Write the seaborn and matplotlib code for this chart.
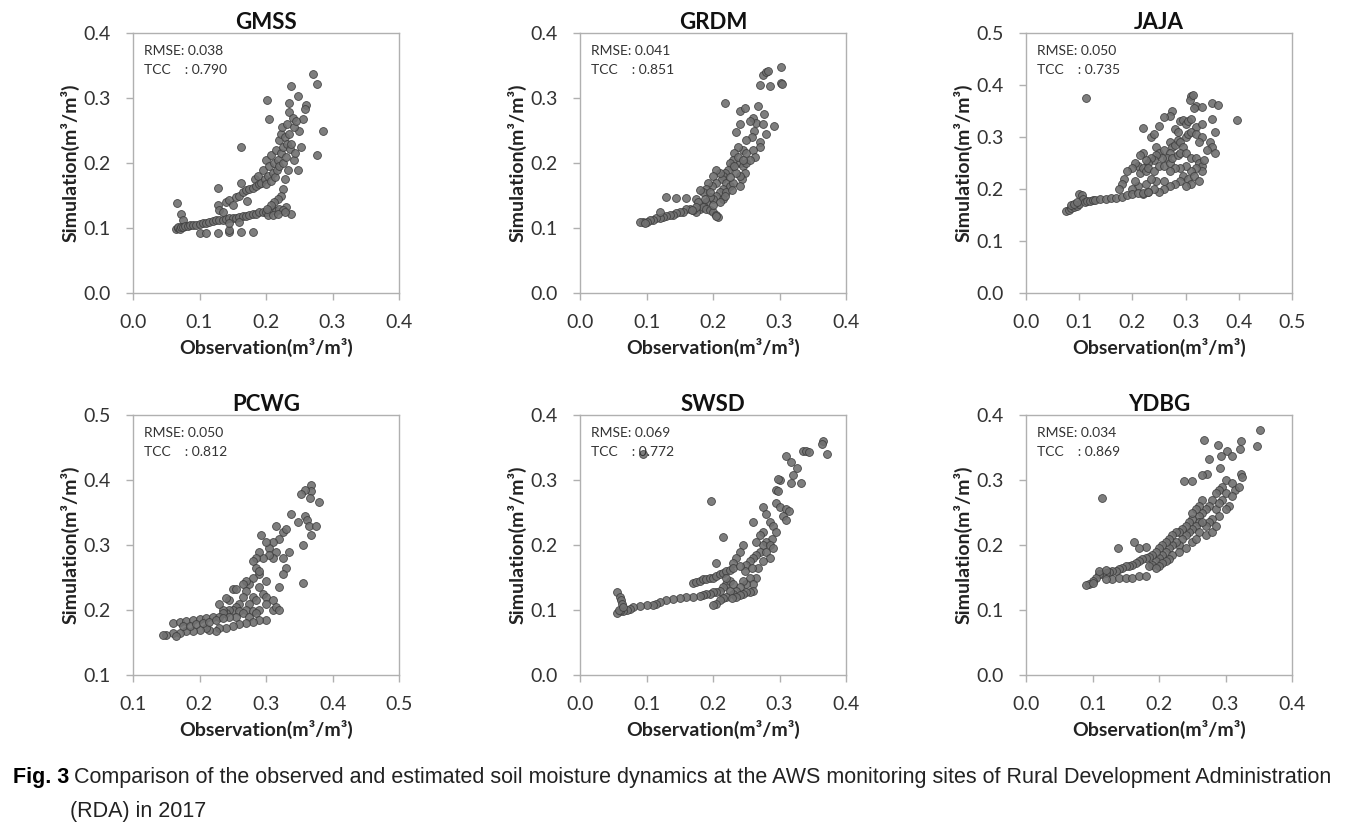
import matplotlib
matplotlib.use("Agg")
import matplotlib.pyplot as plt
import seaborn as sns
import pandas as pd

# ---------------- data ----------------
sites = ["GMSS", "GRDM", "JAJA", "PCWG", "SWSD", "YDBG"]
rmse = ["0.038", "0.041", "0.050", "0.050", "0.069", "0.034"]
tcc = ["0.790", "0.851", "0.735", "0.812", "0.772", "0.869"]
ax_lims = [(0.0, 0.4), (0.0, 0.4), (0.0, 0.5), (0.1, 0.5), (0.0, 0.4), (0.0, 0.4)]

gmss_pts = [
    (0.27, 0.337), (0.277, 0.322), (0.238, 0.318), (0.202, 0.297), (0.204, 0.268), (0.248, 0.303),
    (0.26, 0.29), (0.258, 0.283), (0.255, 0.268), (0.285, 0.25), (0.277, 0.212), (0.163, 0.224),
    (0.128, 0.162), (0.066, 0.139), (0.072, 0.122), (0.075, 0.112), (0.235, 0.293), (0.234, 0.278),
    (0.25, 0.25), (0.252, 0.225), (0.242, 0.205), (0.248, 0.19), (0.238, 0.122), (0.23, 0.133),
    (0.1, 0.092), (0.11, 0.092), (0.128, 0.092), (0.145, 0.094), (0.145, 0.097), (0.163, 0.094), (0.18, 0.094),
    (0.065, 0.098), (0.067, 0.1), (0.068, 0.102), (0.07, 0.099), (0.072, 0.101), (0.075, 0.102),
    (0.078, 0.103), (0.082, 0.103), (0.086, 0.104), (0.09, 0.104), (0.095, 0.105), (0.1, 0.106),
    (0.105, 0.107), (0.11, 0.108), (0.115, 0.11), (0.12, 0.111), (0.125, 0.112), (0.13, 0.113),
    (0.135, 0.112), (0.14, 0.114), (0.145, 0.115), (0.15, 0.116), (0.155, 0.115), (0.16, 0.117),
    (0.165, 0.118), (0.17, 0.119), (0.175, 0.12), (0.18, 0.121), (0.185, 0.122), (0.19, 0.124),
    (0.195, 0.125), (0.2, 0.124), (0.205, 0.127), (0.21, 0.128), (0.215, 0.126), (0.22, 0.129),
    (0.225, 0.128), (0.203, 0.12), (0.21, 0.12), (0.218, 0.122), (0.228, 0.124), (0.145, 0.108), (0.16, 0.11),
    (0.128, 0.135), (0.13, 0.128), (0.135, 0.125), (0.14, 0.14), (0.145, 0.143), (0.15, 0.135),
    (0.155, 0.148), (0.16, 0.15), (0.163, 0.17), (0.165, 0.155), (0.17, 0.158), (0.172, 0.142),
    (0.175, 0.16), (0.18, 0.162), (0.183, 0.175), (0.185, 0.165), (0.188, 0.18), (0.19, 0.167),
    (0.193, 0.17), (0.195, 0.19), (0.198, 0.175), (0.2, 0.205), (0.2, 0.168), (0.203, 0.18),
    (0.205, 0.195), (0.207, 0.172), (0.208, 0.212), (0.21, 0.185), (0.212, 0.2), (0.213, 0.178),
    (0.215, 0.22), (0.216, 0.19), (0.218, 0.205), (0.219, 0.235), (0.22, 0.195), (0.222, 0.245),
    (0.222, 0.215), (0.224, 0.255), (0.225, 0.225), (0.226, 0.2), (0.228, 0.24), (0.23, 0.21),
    (0.231, 0.26), (0.232, 0.23), (0.235, 0.245), (0.236, 0.222), (0.238, 0.23), (0.24, 0.27),
    (0.242, 0.255), (0.244, 0.215), (0.245, 0.265), (0.233, 0.19), (0.228, 0.175), (0.225, 0.16),
    (0.222, 0.15), (0.218, 0.145), (0.212, 0.14), (0.207, 0.135), (0.202, 0.13),
]

grdm_pts = [
    (0.275, 0.335), (0.28, 0.34), (0.283, 0.342), (0.302, 0.347), (0.27, 0.32), (0.285, 0.318),
    (0.303, 0.323), (0.304, 0.322), (0.218, 0.293), (0.24, 0.28), (0.248, 0.285), (0.268, 0.287),
    (0.276, 0.275), (0.26, 0.27), (0.265, 0.262), (0.255, 0.265), (0.292, 0.257), (0.24, 0.26),
    (0.234, 0.248), (0.28, 0.245), (0.27, 0.232), (0.27, 0.225), (0.275, 0.26), (0.262, 0.25),
    (0.258, 0.24), (0.25, 0.235), (0.245, 0.22), (0.26, 0.22), (0.263, 0.21), (0.238, 0.225),
    (0.232, 0.215), (0.23, 0.205), (0.228, 0.195), (0.225, 0.2), (0.24, 0.2), (0.245, 0.195),
    (0.25, 0.2), (0.248, 0.185), (0.244, 0.175), (0.24, 0.18), (0.235, 0.185), (0.222, 0.19),
    (0.218, 0.185), (0.215, 0.18), (0.213, 0.175), (0.21, 0.185), (0.205, 0.19), (0.2, 0.18),
    (0.205, 0.17), (0.198, 0.165), (0.193, 0.17), (0.19, 0.16), (0.185, 0.155), (0.18, 0.158),
    (0.22, 0.17), (0.225, 0.165), (0.23, 0.17), (0.215, 0.16), (0.21, 0.155), (0.205, 0.15),
    (0.2, 0.145), (0.195, 0.148), (0.19, 0.14), (0.185, 0.135), (0.18, 0.13), (0.175, 0.125),
    (0.17, 0.128), (0.165, 0.13), (0.16, 0.13), (0.155, 0.125), (0.15, 0.125), (0.145, 0.123),
    (0.14, 0.12), (0.135, 0.12), (0.13, 0.118), (0.125, 0.117), (0.12, 0.115), (0.115, 0.115),
    (0.11, 0.113), (0.105, 0.112), (0.1, 0.11), (0.095, 0.11), (0.09, 0.109), (0.098, 0.108),
    (0.13, 0.148), (0.145, 0.146), (0.16, 0.146), (0.12, 0.125), (0.175, 0.145), (0.178, 0.14),
    (0.185, 0.132), (0.19, 0.13), (0.195, 0.128), (0.2, 0.125), (0.205, 0.12), (0.208, 0.117),
    (0.204, 0.118), (0.215, 0.145), (0.22, 0.155), (0.225, 0.178), (0.232, 0.195), (0.238, 0.21),
    (0.25, 0.215), (0.255, 0.205), (0.245, 0.205), (0.24, 0.165), (0.228, 0.158), (0.218, 0.15),
    (0.21, 0.14), (0.2, 0.135), (0.195, 0.155), (0.188, 0.145), (0.175, 0.132), (0.168, 0.128),
]

jaja_pts = [
    (0.113, 0.375), (0.31, 0.378), (0.308, 0.372), (0.313, 0.38), (0.35, 0.365), (0.36, 0.362),
    (0.397, 0.332), (0.32, 0.36), (0.33, 0.357), (0.315, 0.355), (0.275, 0.35), (0.27, 0.34),
    (0.26, 0.338), (0.25, 0.322), (0.22, 0.318), (0.29, 0.33), (0.295, 0.332), (0.3, 0.325),
    (0.305, 0.33), (0.31, 0.335), (0.32, 0.32), (0.33, 0.325), (0.35, 0.335), (0.355, 0.31),
    (0.28, 0.315), (0.285, 0.31), (0.3, 0.3), (0.305, 0.305), (0.31, 0.31), (0.32, 0.305),
    (0.33, 0.3), (0.325, 0.29), (0.345, 0.29), (0.35, 0.28), (0.355, 0.27), (0.34, 0.275),
    (0.235, 0.3), (0.24, 0.305), (0.245, 0.28), (0.25, 0.27), (0.26, 0.275), (0.27, 0.29),
    (0.275, 0.28), (0.28, 0.285), (0.285, 0.295), (0.29, 0.29), (0.295, 0.28), (0.27, 0.27),
    (0.265, 0.26), (0.255, 0.26), (0.245, 0.265), (0.24, 0.255), (0.235, 0.26), (0.23, 0.25),
    (0.225, 0.255), (0.22, 0.27), (0.215, 0.265), (0.21, 0.245), (0.205, 0.25), (0.2, 0.24),
    (0.19, 0.235), (0.185, 0.22), (0.18, 0.21), (0.175, 0.2), (0.215, 0.23), (0.22, 0.24),
    (0.225, 0.235), (0.23, 0.24), (0.24, 0.235), (0.25, 0.245), (0.26, 0.245), (0.27, 0.25),
    (0.275, 0.26), (0.285, 0.265), (0.29, 0.27), (0.3, 0.27), (0.31, 0.26), (0.32, 0.26),
    (0.325, 0.25), (0.33, 0.245), (0.335, 0.255), (0.33, 0.235), (0.32, 0.24), (0.31, 0.235),
    (0.3, 0.245), (0.29, 0.24), (0.28, 0.24), (0.27, 0.235), (0.295, 0.225), (0.305, 0.22),
    (0.315, 0.225), (0.325, 0.215), (0.31, 0.21), (0.3, 0.205), (0.29, 0.215), (0.28, 0.21),
    (0.27, 0.205), (0.26, 0.2), (0.25, 0.195), (0.24, 0.2), (0.23, 0.195), (0.22, 0.19),
    (0.21, 0.205), (0.2, 0.2), (0.245, 0.215), (0.26, 0.215), (0.225, 0.21), (0.235, 0.22),
    (0.205, 0.215), (0.075, 0.158), (0.08, 0.16), (0.085, 0.163), (0.09, 0.166), (0.095, 0.168),
    (0.1, 0.172), (0.1, 0.19), (0.105, 0.188), (0.108, 0.18), (0.11, 0.175), (0.115, 0.176),
    (0.12, 0.177), (0.125, 0.178), (0.13, 0.179), (0.14, 0.18), (0.15, 0.181), (0.16, 0.182),
    (0.17, 0.183), (0.18, 0.185), (0.19, 0.188), (0.2, 0.19), (0.21, 0.192), (0.22, 0.193),
    (0.23, 0.195), (0.085, 0.17), (0.09, 0.172), (0.095, 0.175),
]

pcwg_pts = [
    (0.368, 0.393), (0.368, 0.383), (0.358, 0.385), (0.352, 0.378), (0.366, 0.373), (0.38, 0.366),
    (0.338, 0.347), (0.358, 0.345), (0.362, 0.338), (0.348, 0.336), (0.365, 0.33), (0.375, 0.33),
    (0.367, 0.315), (0.355, 0.3), (0.335, 0.29), (0.355, 0.242), (0.315, 0.33), (0.325, 0.32),
    (0.33, 0.325), (0.32, 0.31), (0.31, 0.305), (0.305, 0.295), (0.3, 0.305), (0.292, 0.315),
    (0.315, 0.29), (0.325, 0.28), (0.33, 0.265), (0.325, 0.255), (0.31, 0.28), (0.305, 0.285),
    (0.295, 0.28), (0.29, 0.29), (0.285, 0.28), (0.28, 0.275), (0.285, 0.265), (0.29, 0.255),
    (0.28, 0.25), (0.275, 0.24), (0.27, 0.245), (0.265, 0.24), (0.27, 0.23), (0.28, 0.22),
    (0.29, 0.235), (0.295, 0.225), (0.3, 0.22), (0.31, 0.215), (0.32, 0.235), (0.3, 0.245),
    (0.29, 0.26), (0.285, 0.215), (0.275, 0.21), (0.265, 0.22), (0.26, 0.21), (0.255, 0.205),
    (0.25, 0.2), (0.245, 0.2), (0.24, 0.195), (0.235, 0.2), (0.23, 0.21), (0.245, 0.215),
    (0.25, 0.233), (0.255, 0.233), (0.24, 0.218), (0.235, 0.195), (0.26, 0.198), (0.27, 0.2),
    (0.28, 0.198), (0.29, 0.2), (0.3, 0.21), (0.31, 0.2), (0.315, 0.205), (0.32, 0.2),
    (0.265, 0.195), (0.275, 0.19), (0.255, 0.19), (0.245, 0.19), (0.285, 0.195), (0.3, 0.185),
    (0.29, 0.185), (0.28, 0.182), (0.27, 0.18), (0.26, 0.178), (0.25, 0.175), (0.24, 0.173),
    (0.23, 0.172), (0.225, 0.168), (0.215, 0.17), (0.21, 0.172), (0.2, 0.17), (0.19, 0.168),
    (0.18, 0.167), (0.17, 0.165), (0.16, 0.165), (0.15, 0.162), (0.145, 0.162), (0.165, 0.16),
    (0.16, 0.18), (0.17, 0.182), (0.18, 0.183), (0.19, 0.185), (0.2, 0.186), (0.21, 0.188),
    (0.22, 0.19), (0.23, 0.19), (0.175, 0.175), (0.185, 0.175), (0.195, 0.178), (0.205, 0.18),
    (0.215, 0.182), (0.225, 0.185), (0.235, 0.188),
]

swsd_pts = [
    (0.365, 0.36), (0.364, 0.355), (0.372, 0.34), (0.335, 0.345), (0.34, 0.345), (0.345, 0.343),
    (0.31, 0.337), (0.318, 0.327), (0.326, 0.318), (0.32, 0.308), (0.3, 0.3), (0.298, 0.302),
    (0.318, 0.296), (0.333, 0.296), (0.295, 0.285), (0.298, 0.283), (0.295, 0.265), (0.3, 0.258),
    (0.31, 0.255), (0.315, 0.252), (0.305, 0.245), (0.31, 0.238), (0.197, 0.268), (0.095, 0.34),
    (0.275, 0.258), (0.26, 0.235), (0.28, 0.248), (0.285, 0.235), (0.29, 0.23), (0.295, 0.22),
    (0.288, 0.21), (0.28, 0.205), (0.275, 0.2), (0.27, 0.19), (0.265, 0.185), (0.26, 0.18),
    (0.255, 0.175), (0.25, 0.17), (0.248, 0.16), (0.245, 0.2), (0.24, 0.19), (0.235, 0.18),
    (0.23, 0.172), (0.215, 0.212), (0.205, 0.172), (0.275, 0.22), (0.27, 0.215), (0.265, 0.205),
    (0.28, 0.19), (0.285, 0.2), (0.29, 0.195), (0.285, 0.18), (0.275, 0.175), (0.268, 0.165),
    (0.258, 0.165), (0.265, 0.15), (0.255, 0.15), (0.26, 0.14), (0.25, 0.14), (0.245, 0.145),
    (0.24, 0.135), (0.235, 0.13), (0.23, 0.125), (0.225, 0.13), (0.22, 0.12), (0.215, 0.118),
    (0.21, 0.115), (0.205, 0.11), (0.2, 0.108), (0.26, 0.13), (0.255, 0.128), (0.25, 0.128),
    (0.245, 0.125), (0.24, 0.123), (0.235, 0.12), (0.228, 0.118), (0.22, 0.14), (0.225, 0.145),
    (0.23, 0.14), (0.215, 0.135), (0.21, 0.13), (0.205, 0.128), (0.2, 0.127), (0.195, 0.125),
    (0.19, 0.124), (0.185, 0.123), (0.18, 0.122), (0.17, 0.12), (0.16, 0.12), (0.15, 0.118),
    (0.14, 0.117), (0.13, 0.115), (0.12, 0.113), (0.115, 0.11), (0.11, 0.108), (0.1, 0.107),
    (0.09, 0.106), (0.08, 0.104), (0.075, 0.102), (0.07, 0.1), (0.065, 0.099), (0.06, 0.098),
    (0.056, 0.096), (0.058, 0.1), (0.055, 0.128), (0.06, 0.12), (0.062, 0.115), (0.063, 0.11),
    (0.065, 0.105), (0.17, 0.142), (0.175, 0.143), (0.18, 0.145), (0.185, 0.147), (0.19, 0.148),
    (0.195, 0.15), (0.2, 0.15), (0.205, 0.153), (0.21, 0.155), (0.215, 0.157), (0.22, 0.16),
    (0.225, 0.162), (0.23, 0.165), (0.24, 0.168), (0.22, 0.15),
]

ydbg_pts = [
    (0.352, 0.377), (0.348, 0.353), (0.268, 0.362), (0.288, 0.354), (0.323, 0.36), (0.322, 0.347),
    (0.302, 0.345), (0.31, 0.337), (0.275, 0.332), (0.293, 0.337), (0.292, 0.318), (0.323, 0.31),
    (0.325, 0.305), (0.272, 0.31), (0.265, 0.308), (0.237, 0.298), (0.25, 0.298), (0.115, 0.273),
    (0.138, 0.195), (0.162, 0.205), (0.18, 0.197), (0.17, 0.195),
    (0.3, 0.3), (0.31, 0.295), (0.295, 0.29), (0.29, 0.285), (0.285, 0.28), (0.3, 0.28),
    (0.315, 0.285), (0.305, 0.26), (0.3, 0.255), (0.295, 0.27), (0.28, 0.27), (0.275, 0.26),
    (0.27, 0.255), (0.265, 0.25), (0.26, 0.245), (0.285, 0.255), (0.29, 0.245), (0.28, 0.24),
    (0.275, 0.235), (0.27, 0.23), (0.26, 0.235), (0.255, 0.23), (0.25, 0.225), (0.245, 0.22),
    (0.24, 0.215), (0.235, 0.21), (0.23, 0.2), (0.225, 0.205), (0.22, 0.2), (0.215, 0.195),
    (0.21, 0.19), (0.205, 0.185), (0.2, 0.18), (0.195, 0.175), (0.19, 0.17), (0.185, 0.168),
    (0.25, 0.24), (0.245, 0.235), (0.24, 0.23), (0.235, 0.225), (0.23, 0.22), (0.225, 0.22),
    (0.22, 0.215), (0.215, 0.21), (0.21, 0.205), (0.205, 0.2), (0.2, 0.195), (0.195, 0.19),
    (0.19, 0.185), (0.185, 0.182), (0.18, 0.18), (0.175, 0.178), (0.17, 0.175), (0.165, 0.172),
    (0.16, 0.17), (0.155, 0.168), (0.15, 0.167), (0.145, 0.165), (0.14, 0.163), (0.135, 0.16),
    (0.13, 0.16), (0.125, 0.158), (0.12, 0.157), (0.115, 0.156), (0.11, 0.155), (0.105, 0.15),
    (0.1, 0.145), (0.095, 0.14), (0.09, 0.138), (0.11, 0.16), (0.12, 0.162), (0.13, 0.148),
    (0.14, 0.15), (0.15, 0.15), (0.16, 0.15), (0.17, 0.152), (0.18, 0.152), (0.12, 0.148),
    (0.1, 0.142), (0.25, 0.205), (0.26, 0.22), (0.27, 0.215), (0.28, 0.22), (0.24, 0.195),
    (0.23, 0.19), (0.22, 0.185), (0.215, 0.178), (0.21, 0.175), (0.205, 0.172), (0.2, 0.168),
    (0.195, 0.165), (0.265, 0.235), (0.285, 0.23), (0.255, 0.21), (0.29, 0.265), (0.31, 0.275),
    (0.32, 0.29), (0.265, 0.27), (0.26, 0.26), (0.255, 0.255), (0.25, 0.25),
]

site_points = [gmss_pts, grdm_pts, jaja_pts, pcwg_pts, swsd_pts, ydbg_pts]

# ---------------- style ----------------
sns.set_style("ticks")
plt.rcParams["font.family"] = ["Lato", "DejaVu Sans"]

W, H = 1365, 833
fig = plt.figure(figsize=(W / 100, H / 100), dpi=100)

lefts = [133, 580, 1026]
tops = [33, 415]
aw, ah = 266, 260

for i, (site, pts) in enumerate(zip(sites, site_points)):
    r, c = divmod(i, 3)
    ax = fig.add_axes([lefts[c] / W, 1 - (tops[r] + ah) / H, aw / W, ah / H])
    df = pd.DataFrame(pts, columns=["obs", "sim"])
    sns.scatterplot(data=df, x="obs", y="sim", ax=ax, s=32, color="#707070",
                    edgecolor="#3c3c3c", linewidth=0.6, alpha=0.9, legend=False)
    lo, hi = ax_lims[i]
    ax.set_xlim(lo, hi)
    ax.set_ylim(lo, hi)
    ticks = [round(lo + 0.1 * k, 1) for k in range(int(round((hi - lo) / 0.1)) + 1)]
    ax.set_xticks(ticks)
    ax.set_yticks(ticks)
    ax.set_xticklabels([f"{t:.1f}" for t in ticks])
    ax.set_yticklabels([f"{t:.1f}" for t in ticks])
    for sp in ax.spines.values():
        sp.set_color("#b0b0b0")
        sp.set_linewidth(1.0)
    ax.tick_params(axis="both", direction="out", length=5, width=1, color="#b0b0b0",
                   labelsize=14, labelcolor="#333333")
    ax.tick_params(axis="x", pad=10)
    ax.tick_params(axis="y", pad=11)
    ax.set_xlabel("Observation(m³/m³)", fontsize=14, fontweight="bold", color="#222222", labelpad=5)
    ax.set_ylabel("Simulation(m³/m³)", fontsize=14, fontweight="bold", color="#222222", labelpad=3)
    ax.set_title(site, fontsize=16, fontweight="bold", color="#111111", pad=3)
    ax.text(0.04, 0.955, f"RMSE: {rmse[i]}", transform=ax.transAxes, fontsize=10,
            color="#333333", va="top", ha="left")
    ax.text(0.04, 0.88, f"TCC    : {tcc[i]}", transform=ax.transAxes, fontsize=10,
            color="#333333", va="top", ha="left")

cap_font = ["Liberation Sans", "DejaVu Sans"]
fig.text(13 / W, 1 - 777 / H, "Fig. 3", fontsize=15.5, fontweight="bold", family=cap_font,
         va="center", ha="left", color="black")
fig.text(74 / W, 1 - 777 / H,
         "Comparison of the observed and estimated soil moisture dynamics at the AWS monitoring sites of Rural Development Administration",
         fontsize=15.5, family=cap_font, va="center", ha="left", color="#222222")
fig.text(70 / W, 1 - 812 / H, "(RDA) in 2017", fontsize=15.5, family=cap_font,
         va="center", ha="left", color="#222222")

fig.savefig("out.png", dpi=100)
